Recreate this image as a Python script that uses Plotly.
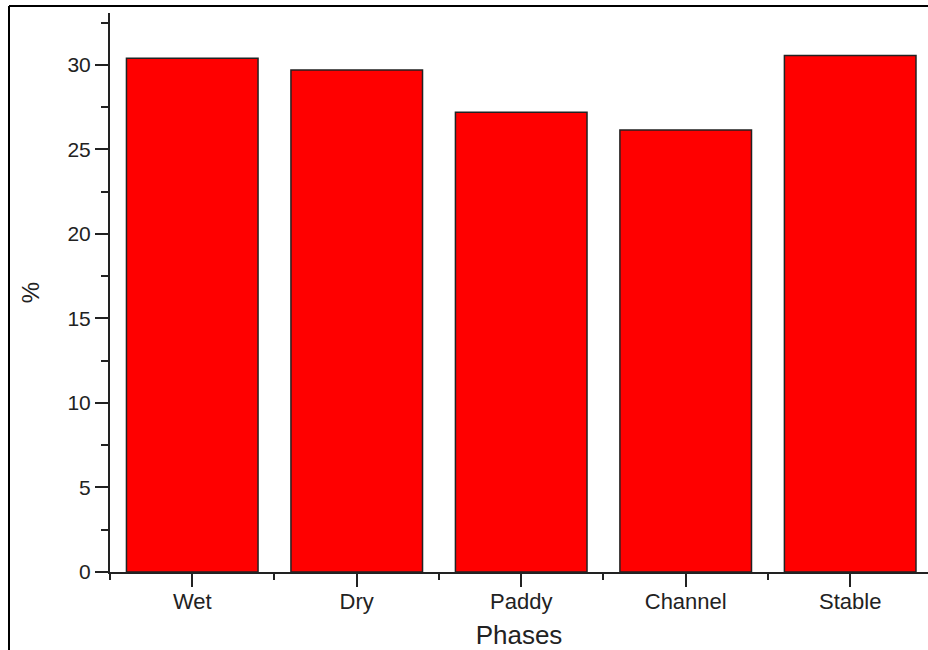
import plotly.graph_objects as go

# Datos
FASES = ["Wet", "Dry", "Paddy", "Channel", "Stable"]
PORCENTAJE = [30.4, 29.7, 27.2, 26.15, 30.55]
TICKS_Y = [0, 5, 10, 15, 20, 25, 30]

ANCHO, ALTO = 928, 650
M_IZQ, M_SUP, M_INF, M_DER = 110, 13, 78, 0

fig = go.Figure()

fig.add_trace(go.Bar(
    x=list(range(len(FASES))),
    y=PORCENTAJE,
    width=0.8,
    marker=dict(color="#ff0000", line=dict(color="#222222", width=1.5)),
    hoverinfo="skip",
))

fig.update_layout(
    width=ANCHO,
    height=ALTO,
    plot_bgcolor="white",
    paper_bgcolor="white",
    showlegend=False,
    margin=dict(l=M_IZQ, r=M_DER, t=M_SUP, b=M_INF, pad=0),
    font=dict(family="Liberation Sans, Arial", color="#222222"),
)

fig.update_xaxes(
    range=[-0.5, 4.473],
    tickvals=list(range(len(FASES))),
    ticktext=FASES,
    ticks="outside",
    ticklen=13,
    tickwidth=2,
    tickcolor="#222222",
    tickfont=dict(size=22),
    ticklabelstandoff=-4,
    minor=dict(tick0=0.5, dtick=1, ticks="outside", ticklen=6, tickwidth=2, tickcolor="#222222"),
    showline=True,
    linecolor="#222222",
    linewidth=2,
    showgrid=False,
    zeroline=False,
    title=dict(text="Phases", font=dict(size=26), standoff=17),
)

fig.update_yaxes(
    range=[0, 33.07],
    tickvals=TICKS_Y,
    ticks="outside",
    ticklen=13,
    tickwidth=2,
    tickcolor="#222222",
    tickfont=dict(size=21),
    minor=dict(tick0=0, dtick=2.5, ticks="outside", ticklen=7, tickwidth=2, tickcolor="#222222"),
    showline=True,
    linecolor="#222222",
    linewidth=2,
    showgrid=False,
    zeroline=False,
    title=dict(text="%", font=dict(size=24), standoff=21),
)

# Marco exterior de la imagen (bordes izquierdo y superior visibles)
ancho_plot = ANCHO - M_IZQ - M_DER
alto_plot = ALTO - M_SUP - M_INF
px = lambda x: (x - M_IZQ) / ancho_plot
py = lambda y: (ALTO - M_INF - y) / alto_plot
fig.add_shape(type="line", xref="paper", yref="paper",
              x0=px(9), x1=px(940), y0=py(6), y1=py(6),
              line=dict(color="black", width=2))
fig.add_shape(type="line", xref="paper", yref="paper",
              x0=px(9), x1=px(9), y0=py(6), y1=py(660),
              line=dict(color="black", width=2))

# quitar el margen del body para que la figura ocupe la ventana entera
fig.write_html(
    "out.html",
    config={"displayModeBar": False},
    post_script="document.body.style.margin='0';document.body.style.overflow='hidden';",
)
